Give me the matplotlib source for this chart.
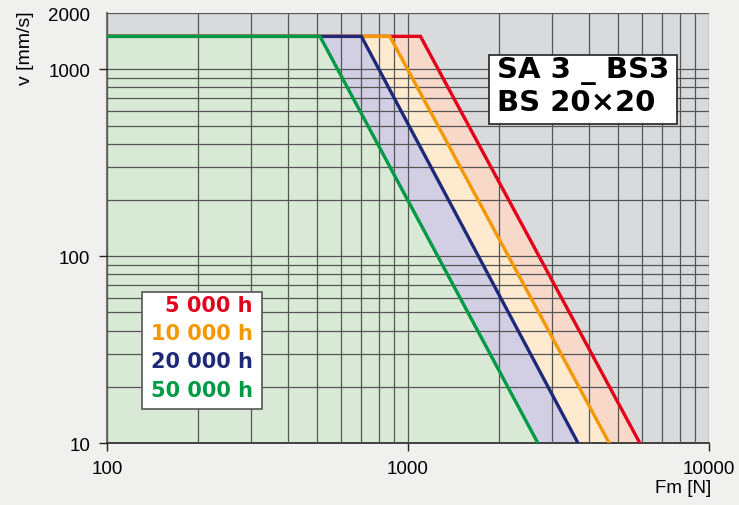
import numpy as np
import matplotlib
matplotlib.use('Agg')
from matplotlib import pyplot as plt
from matplotlib.ticker import LogLocator, NullFormatter

# lifetime curves: speed plateau, then v ~ F^-3 down to 10 mm/s
hours = ['5 000 h', '10 000 h', '20 000 h', '50 000 h']
lineColors = ['#e3001b', '#f39800', '#1e2a78', '#009a44']
fillColors = ['#f8d8c9', '#feeacf', '#d2cfe5', '#d8e9d6']
vMax = 1500
forceBreak = [1100, 870, 700, 510]
forceAt10 = [5890, 4660, 3670, 2700]
fMin = 100
vMin = 10

xTicks = [100, 1000, 10000]
yTicks = [10, 100, 1000, 2000]

fig = plt.figure(figsize=(7.39, 5.06), dpi=100)
fig.patch.set_facecolor('#f0f0ee')
ax = fig.add_axes([0.1448, 0.1225, 0.8146, 0.8498])
ax.set_facecolor('#d9dadc')
ax.set_xscale('log')
ax.set_yscale('log')
ax.set_xlim(100, 10000)
ax.set_ylim(10, 2000)

# fills, widest first so the narrower ones sit on top
for i in range(len(hours)):
    xs = [fMin, fMin, forceBreak[i], forceAt10[i]]
    ys = [vMin, vMax, vMax, vMin]
    ax.fill(xs, ys, color=fillColors[i], lw=0, zorder=1)

for i in range(len(hours)):
    xs = [fMin, forceBreak[i], forceAt10[i]]
    ys = [vMax, vMax, vMin]
    ax.plot(xs, ys, color=lineColors[i], lw=2.4, zorder=3 + i,
            solid_joinstyle='miter')

ax.set_axisbelow(False)
ax.xaxis.set_minor_locator(LogLocator(base=10, subs=np.arange(2, 10)))
ax.yaxis.set_minor_locator(LogLocator(base=10, subs=np.arange(2, 10)))
ax.xaxis.set_minor_formatter(NullFormatter())
ax.yaxis.set_minor_formatter(NullFormatter())
ax.grid(True, which='both', color='#555555', lw=0.9)

ax.set_xticks(xTicks)
ax.set_xticklabels([str(t) for t in xTicks], fontsize=13.5, family='Liberation Sans')
ax.set_yticks(yTicks)
ax.set_yticklabels([str(t) for t in yTicks], fontsize=13.5, family='Liberation Sans')
ax.tick_params(which='major', length=6, width=1, color='#222222', pad=6)
ax.tick_params(which='minor', length=0)
ax.yaxis.get_major_ticks()[-1].tick1line.set_visible(False)

for s in ['top', 'right']:
    ax.spines[s].set_visible(False)
ax.spines['left'].set_color('#777777')
ax.spines['left'].set_linewidth(1.5)
ax.spines['bottom'].set_color('#222222')
ax.spines['bottom'].set_linewidth(1.2)

fig.text(0.034, 0.905, 'v [mm/s]', rotation=90, ha='center', va='center',
         fontsize=14, family='Liberation Sans')
fig.text(0.925, 0.034, 'Fm [N]', ha='center', va='center',
         fontsize=13.5, family='Liberation Sans')

# title box
ax.add_patch(plt.Rectangle((0.6346, 0.7419), 0.3122, 0.1604, transform=ax.transAxes,
                           facecolor='white', edgecolor='#222222', lw=1.2, zorder=10))
ax.text(0.648, 0.868, 'SA 3 _ BS3', transform=ax.transAxes, fontsize=21,
        fontweight='bold', family='DejaVu Sans', va='center', ha='left', zorder=11)
ax.text(0.648, 0.792, 'BS 20×20', transform=ax.transAxes, fontsize=21,
        fontweight='bold', family='DejaVu Sans', va='center', ha='left', zorder=11)

# legend box
ax.add_patch(plt.Rectangle((0.058, 0.079), 0.1995, 0.272, transform=ax.transAxes,
                           facecolor='white', edgecolor='#555555', lw=1.2, zorder=10))
legendY = [0.321, 0.256, 0.190, 0.124]
for i in range(len(hours)):
    ax.text(0.2425, legendY[i], hours[i], transform=ax.transAxes, color=lineColors[i],
            fontsize=15, fontweight='bold', family='DejaVu Sans',
            ha='right', va='center', zorder=11)

fig.savefig('out.png', dpi=100, facecolor=fig.get_facecolor())
